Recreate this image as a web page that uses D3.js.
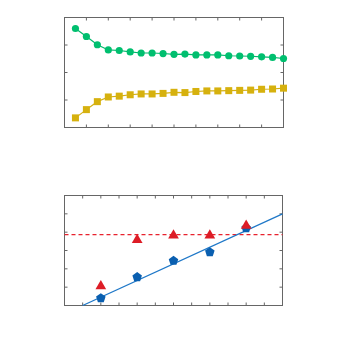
<!DOCTYPE html>
<html>
<head>
<meta charset="utf-8">
<script src="https://cdn.jsdelivr.net/npm/d3@7"></script>
<style>
  body { margin: 0; background: #fff; }
  svg { display: block; }
</style>
</head>
<body>
<script>
// top panel: two series over 20 steps
var steps = d3.range(1, 21);
var greenVals = [3.60, 3.31, 3.01, 2.82, 2.80, 2.75, 2.71, 2.71, 2.69, 2.66,
                 2.67, 2.64, 2.64, 2.64, 2.61, 2.60, 2.59, 2.57, 2.55, 2.51];
var goldVals = [0.35, 0.65, 0.94, 1.11, 1.14, 1.19, 1.22, 1.22, 1.24, 1.28,
                1.27, 1.31, 1.33, 1.33, 1.34, 1.35, 1.36, 1.39, 1.40, 1.43];

// bottom panel: measured points, fitted line, reference level
var bx = [2, 4, 6, 8, 10];
var blueVals = [0.40, 1.55, 2.44, 2.91, 4.22];
var redVals = [1.05, 3.58, 3.82, 3.82, 4.35];
var fitX = [1, 12];
var fitY = [0, 5];
var refLevel = 3.87;

var W = 338, H = 354;
var svg = d3.select("body").append("svg").attr("width", W).attr("height", H);

function frame(g, x, y, w, h, xt, yt) {
  g.append("rect").attr("x", x).attr("y", y).attr("width", w).attr("height", h)
    .attr("fill", "none").attr("stroke", "#666").attr("stroke-width", 1);
  var tl = 3;
  xt.forEach(function(p) {
    g.append("line").attr("x1", p).attr("x2", p).attr("y1", y + h).attr("y2", y + h - tl).attr("stroke", "#666");
    g.append("line").attr("x1", p).attr("x2", p).attr("y1", y).attr("y2", y + tl).attr("stroke", "#666");
  });
  yt.forEach(function(p) {
    g.append("line").attr("y1", p).attr("y2", p).attr("x1", x).attr("x2", x + tl).attr("stroke", "#666");
    g.append("line").attr("y1", p).attr("y2", p).attr("x1", x + w).attr("x2", x + w - tl).attr("stroke", "#666");
  });
}

// ---- top panel
var x1 = d3.scaleLinear().domain([0, 20]).range([64.5, 283.5]);
var y1 = d3.scaleLinear().domain([0, 4]).range([127.5, 17.5]);
var g1 = svg.append("g");
frame(g1, 64.5, 17.5, 219, 110,
  d3.range(2, 20, 2).map(x1), d3.range(1, 4).map(y1));

var line1 = d3.line().x(function(d) { return x1(d[0]); }).y(function(d) { return y1(d[1]); });
var greenPts = steps.map(function(s, i) { return [s, greenVals[i]]; });
var goldPts = steps.map(function(s, i) { return [s, goldVals[i]]; });

g1.append("path").attr("d", line1(greenPts)).attr("fill", "none").attr("stroke", "#00b86b").attr("stroke-width", 1.2);
g1.selectAll(".gc").data(greenPts).enter().append("circle")
  .attr("cx", function(d) { return x1(d[0]); }).attr("cy", function(d) { return y1(d[1]); })
  .attr("r", 3.6).attr("fill", "#00bf6f");

g1.append("path").attr("d", line1(goldPts)).attr("fill", "none").attr("stroke", "#d4b012").attr("stroke-width", 1.2);
g1.selectAll(".gs").data(goldPts).enter().append("rect")
  .attr("x", function(d) { return x1(d[0]) - 3.5; }).attr("y", function(d) { return y1(d[1]) - 3.5; })
  .attr("width", 7).attr("height", 7).attr("fill", "#d6b10e");

// ---- bottom panel
var x2 = d3.scaleLinear().domain([0, 12]).range([64.5, 282.5]);
var y2 = d3.scaleLinear().domain([0, 6]).range([305.5, 195.5]);
var g2 = svg.append("g");
frame(g2, 64.5, 195.5, 218, 110,
  d3.range(1, 12).map(x2), d3.range(1, 6).map(y2));

g2.append("line").attr("x1", x2(0)).attr("x2", x2(12)).attr("y1", y2(refLevel)).attr("y2", y2(refLevel))
  .attr("stroke", "#e8222e").attr("stroke-width", 1.2).attr("stroke-dasharray", "4,3");

var slope = (fitY[1] - fitY[0]) / (fitX[1] - fitX[0]);
g2.append("line").attr("x1", x2(fitX[0])).attr("y1", y2(fitY[0]))
  .attr("x2", x2(fitX[1] + 0.0)).attr("y2", y2(fitY[1]))
  .attr("stroke", "#1f78c8").attr("stroke-width", 1.3);

var pent = d3.symbol().type(d3.symbolStar).size(0);
function pentagon(r) {
  var p = [];
  for (var k = 0; k < 5; k++) {
    var a = -Math.PI / 2 + k * 2 * Math.PI / 5;
    p.push([r * Math.cos(a), r * Math.sin(a)]);
  }
  return "M" + p.join("L") + "Z";
}
g2.selectAll(".bp").data(bx).enter().append("path")
  .attr("d", pentagon(5))
  .attr("transform", function(d, i) { return "translate(" + x2(d) + "," + y2(blueVals[i]) + ")"; })
  .attr("fill", "#0a5fb0");

g2.selectAll(".rt").data(bx).enter().append("path")
  .attr("d", d3.symbol().type(d3.symbolTriangle).size(50))
  .attr("transform", function(d, i) { return "translate(" + x2(d) + "," + y2(redVals[i]) + ")"; })
  .attr("fill", "#dd1c26");
</script>
</body>
</html>
